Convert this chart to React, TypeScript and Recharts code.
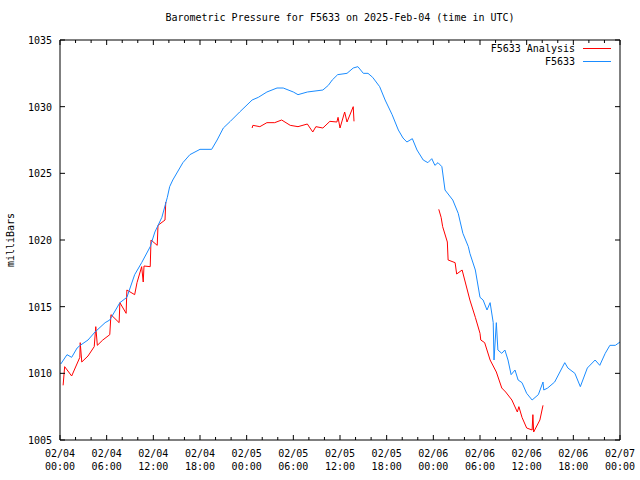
import React from 'react';
import { LineChart, Line, XAxis, YAxis, Legend } from 'recharts';

const FONT = '"DejaVu Sans Mono", monospace';

const chartTitle = 'Barometric Pressure for F5633 on 2025-Feb-04 (time in UTC)';
const yAxisTitle = 'milliBars';
const stationName = 'F5633';
const analysisName = 'F5633 Analysis';
const legendOrder = [analysisName, stationName];

// hours since 2025-02-04 00:00 UTC
const stationHours = [
  0.1, 0.9, 1.5, 2.2, 2.6, 3.6, 4.5, 5.8, 6.4, 7.7, 8.6, 9.6, 10.5, 11.6, 12.2, 13.1, 13.8, 14.1, 14.5, 15.8,
  16.7, 18.0, 19.5, 20.2, 21.0, 21.9, 23.1, 24.7, 25.5, 26.6, 27.9, 28.7, 30.0, 30.6, 31.8, 33.8, 34.5, 35.0, 35.7, 36.9,
  37.7, 38.3, 39.0, 39.6, 40.2, 41.1, 41.8, 42.7, 43.5, 44.1, 44.6, 45.3, 45.9, 46.7, 47.3, 47.8, 48.2, 48.6, 49.1, 49.5,
  49.9, 50.5, 51.2, 51.4, 51.8, 52.5, 52.7, 53.4, 54.0, 54.4, 54.9, 55.3, 55.7, 55.8, 56.1, 56.3, 56.8, 57.2, 57.6, 58.0,
  58.5, 58.9, 59.4, 60.0, 60.7, 61.5, 62.1, 62.2, 62.7, 63.6, 64.9, 65.3, 66.2, 66.9, 67.8, 68.8, 69.4, 70.1, 70.7, 71.4,
  72.0,
];
const stationPressure = [
  1010.7, 1011.4, 1011.2, 1011.9, 1012.1, 1012.5, 1013.1, 1013.8, 1014.0, 1015.3, 1015.7, 1017.4, 1018.3, 1019.5, 1020.6, 1021.7, 1023.2, 1024.0, 1024.5, 1025.8,
  1026.4, 1026.8, 1026.8, 1027.5, 1028.4, 1028.9, 1029.6, 1030.5, 1030.7, 1031.1, 1031.4, 1031.4, 1031.1, 1030.9, 1031.1, 1031.25, 1031.6, 1032.0, 1032.4, 1032.5,
  1032.9, 1033.0, 1032.5, 1032.5, 1032.2, 1031.5, 1030.5, 1029.4, 1028.25, 1027.65, 1027.35, 1027.6, 1026.75, 1026.0, 1025.8, 1026.1, 1025.6, 1025.8, 1025.5, 1023.75,
  1023.45, 1023.0, 1022.0, 1021.5, 1020.5, 1019.5, 1019.0, 1017.75, 1015.7, 1015.5, 1014.75, 1015.3, 1013.8, 1011.0, 1013.8, 1011.75, 1011.5, 1011.75, 1011.0, 1009.9,
  1010.25, 1009.5, 1009.3, 1008.5, 1008.0, 1008.4, 1009.35, 1008.75, 1008.9, 1009.35, 1010.8, 1010.4, 1010.0, 1009.0, 1010.4, 1011.0, 1010.6, 1011.5, 1012.1, 1012.1,
  1012.35,
];

const analysisHours = [
  0.4, 0.6, 1.5, 2.55, 2.6, 2.8, 3.6, 4.4, 4.6, 4.8, 5.5, 6.4, 6.55, 7.6, 7.7, 8.5, 8.6, 9.6, 9.9, 10.5,
  10.7, 10.8, 11.6, 11.7, 12.5, 12.6, 13.5, 13.6,
  19.0,
  24.7, 24.8, 25.7, 26.6, 27.6, 28.5, 29.6, 30.6, 31.8, 32.5, 32.9, 33.8, 34.7, 35.6, 35.75, 36.0, 36.6, 36.9, 37.7, 37.8,
  43.0,
  48.7, 49.0, 49.2, 49.8, 49.9, 50.8, 51.0, 51.7, 52.1, 52.7, 53.4, 54.0, 54.1, 54.6, 55.3, 56.1, 56.8, 57.3, 58.1, 58.8,
  59.0, 59.4, 60.0, 60.7, 60.8, 60.9, 61.7, 62.1,
];
const analysisPressure: (number | null)[] = [
  1009.1, 1010.5, 1009.8, 1011.2, 1012.3, 1010.85, 1011.3, 1012.0, 1013.5, 1012.1, 1012.5, 1012.9, 1014.4, 1013.8, 1015.3, 1014.5, 1016.25, 1015.9, 1016.8, 1018.0,
  1016.85, 1018.05, 1018.0, 1020.0, 1019.6, 1021.1, 1021.5, 1022.85,
  null,
  1028.4, 1028.6, 1028.5, 1028.8, 1028.8, 1029.0, 1028.6, 1028.5, 1028.7, 1028.1, 1028.5, 1028.4, 1028.9, 1028.85, 1029.2, 1028.4, 1029.6, 1028.85, 1030.0, 1028.9,
  null,
  1022.3, 1021.7, 1021.0, 1019.85, 1018.5, 1018.3, 1017.45, 1017.75, 1016.85, 1015.5, 1014.2, 1013.0, 1012.5, 1012.3, 1011.0, 1010.1, 1008.9, 1008.6, 1008.0, 1007.1,
  1007.5, 1006.7, 1005.9, 1005.75, 1006.9, 1005.6, 1006.5, 1007.6,
];

const xTicks = [0, 2, 4, 6, 8, 10, 12, 14, 16, 18, 20, 22, 24, 26, 28, 30, 32, 34, 36, 38, 40, 42, 44, 46, 48, 50, 52, 54, 56, 58, 60, 62, 64, 66, 68, 70, 72];
const dateLabels = ['02/04', '02/04', '02/04', '02/04', '02/05', '02/05', '02/05', '02/05', '02/06', '02/06', '02/06', '02/06', '02/07'];
const timeLabels = ['00:00', '06:00', '12:00', '18:00', '00:00', '06:00', '12:00', '18:00', '00:00', '06:00', '12:00', '18:00', '00:00'];
const yTicks = [1005, 1010, 1015, 1020, 1025, 1030, 1035];

const stationData = stationHours.map((h, i) => ({ h, p: stationPressure[i] }));
const analysisData = analysisHours.map((h, i) => ({ h, p: analysisPressure[i] }));

const BottomTick = (props: any) => {
  const { x, y, payload } = props;
  const v = payload.value;
  const major = v % 6 === 0;
  const idx = v / 6;
  return (
    <g>
      <line x1={x} y1={y} x2={x} y2={y - (major ? 5 : 3)} stroke="#000" />
      {major && (
        <text x={x} y={y + 17} textAnchor="middle" fontFamily={FONT} fontSize={10} fill="#000">
          <tspan x={x} dy={0}>{dateLabels[idx]}</tspan>
          <tspan x={x} dy={13}>{timeLabels[idx]}</tspan>
        </text>
      )}
    </g>
  );
};

const TopTick = (props: any) => {
  const { x, y, payload } = props;
  const major = payload.value % 6 === 0;
  return <line x1={x} y1={y} x2={x} y2={y + (major ? 5 : 3)} stroke="#000" />;
};

const LeftTick = (props: any) => {
  const { x, y, payload } = props;
  return (
    <g>
      <line x1={x} y1={y} x2={x + 5} y2={y} stroke="#000" />
      <text x={x - 8} y={y + 4} textAnchor="end" fontFamily={FONT} fontSize={10} fill="#000">
        {payload.value}
      </text>
    </g>
  );
};

const RightTick = (props: any) => {
  const { x, y } = props;
  return <line x1={x} y1={y} x2={x - 5} y2={y} stroke="#000" />;
};

const LegendContent = (props: any) => {
  const items = [...(props.payload || [])].sort(
    (a: any, b: any) => legendOrder.indexOf(a.value) - legendOrder.indexOf(b.value)
  );
  return (
    <div style={{ fontFamily: FONT, fontSize: 10, color: '#000' }}>
      {items.map((e: any) => (
        <div
          key={e.value}
          style={{ display: 'flex', justifyContent: 'flex-end', alignItems: 'center', height: 13 }}
        >
          <span>{e.value}</span>
          <span
            style={{ display: 'inline-block', width: 28, height: 0, borderTop: `1px solid ${e.color}`, marginLeft: 8 }}
          />
        </div>
      ))}
    </div>
  );
};

export default function App() {
  return (
    <div style={{ position: 'absolute', left: 0, top: 0, width: 640, height: 480, background: '#fff' }}>
      <div
        style={{
          position: 'absolute',
          left: 60,
          top: 12,
          width: 560,
          textAlign: 'center',
          fontFamily: FONT,
          fontSize: 10,
          lineHeight: '12px',
          color: '#000',
        }}
      >
        {chartTitle}
      </div>
      <LineChart width={640} height={480} margin={{ top: 39, right: 19, bottom: 0, left: 0 }}>
        <XAxis
          dataKey="h"
          type="number"
          domain={[0, 72]}
          ticks={xTicks}
          interval={0}
          height={40}
          tickSize={0}
          tickMargin={0}
          tickLine={false}
          tick={<BottomTick />}
          axisLine={{ stroke: '#000' }}
          allowDataOverflow
        />
        <XAxis
          xAxisId="top"
          orientation="top"
          dataKey="h"
          type="number"
          domain={[0, 72]}
          ticks={xTicks}
          interval={0}
          height={1}
          tickSize={0}
          tickMargin={0}
          tickLine={false}
          tick={<TopTick />}
          axisLine={{ stroke: '#000' }}
          allowDataOverflow
        />
        <YAxis
          type="number"
          domain={[1005, 1035]}
          ticks={yTicks}
          interval={0}
          width={60}
          tickSize={0}
          tickMargin={0}
          tickLine={false}
          tick={<LeftTick />}
          axisLine={{ stroke: '#000' }}
          allowDataOverflow
          label={{
            value: yAxisTitle,
            angle: -90,
            position: 'insideLeft',
            offset: 10,
            style: { textAnchor: 'middle', fontFamily: FONT, fontSize: 10, fill: '#000' },
          }}
        />
        <YAxis
          yAxisId="right"
          orientation="right"
          type="number"
          domain={[1005, 1035]}
          ticks={yTicks}
          interval={0}
          width={1}
          tickSize={0}
          tickMargin={0}
          tickLine={false}
          tick={<RightTick />}
          axisLine={{ stroke: '#000' }}
          allowDataOverflow
        />
        <Legend
          layout="vertical"
          align="center"
          verticalAlign="middle"
          wrapperStyle={{ left: 430, top: 42, width: 181 }}
          content={<LegendContent />}
        />
        <Line
          data={analysisData}
          xAxisId="top"
          yAxisId="right"
          dataKey="p"
          name={analysisName}
          stroke="#ff0000"
          strokeWidth={1}
          dot={false}
          activeDot={false}
          connectNulls={false}
          type="linear"
          isAnimationActive={false}
        />
        <Line
          data={stationData}
          dataKey="p"
          name={stationName}
          stroke="#1a8cff"
          strokeWidth={1}
          dot={false}
          activeDot={false}
          type="linear"
          isAnimationActive={false}
        />
      </LineChart>
    </div>
  );
}
